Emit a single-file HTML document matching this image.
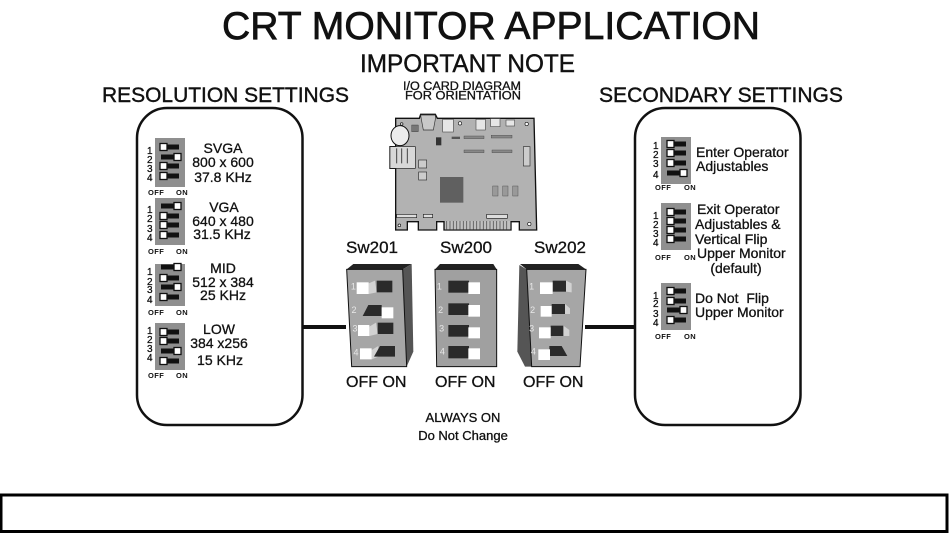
<!DOCTYPE html>
<html><head><meta charset="utf-8"><style>
html,body{margin:0;padding:0;background:#fff}
svg{display:block}
text{font-family:"Liberation Sans",sans-serif;fill:#111;stroke:#111;stroke-width:.3px}
.m{font-size:14px;text-anchor:middle}
.l{font-size:14px}
.n{font-size:10px}
.o{font-size:7.5px;font-weight:bold;letter-spacing:.4px;stroke:none}
.b{font-size:17px}
.f{font-size:16px}
.g{fill:#8f8f8f}
.w{fill:#fff}
.d{fill:#2a2a2a}
.r{fill:#d2d2d2}
text.k{fill:#e8e8e8;stroke:none;font-size:10px;text-anchor:middle}
</style></head><body>
<svg width="949" height="534" viewBox="0 0 949 534" xmlns="http://www.w3.org/2000/svg">
<defs>
<g id="off"><rect x="0" y="-2.5" width="18" height="5" fill="#111"/><rect x="-1" y="-3.5" width="7" height="7" fill="#fff" stroke="#111" stroke-width="1.3"/></g>
<g id="on"><rect x="0" y="-2.5" width="18" height="5" fill="#111"/><rect x="13" y="-3.5" width="7" height="7" fill="#fff" stroke="#111" stroke-width="1.3"/></g>
</defs>
<rect width="949" height="534" fill="#fff"/>

<text x="222" y="39" font-size="38.6" textLength="538" lengthAdjust="spacingAndGlyphs" style="stroke-width:.7px">CRT MONITOR APPLICATION</text>
<text x="360" y="72" font-size="24.6" textLength="215" lengthAdjust="spacingAndGlyphs" style="stroke-width:.4px">IMPORTANT NOTE</text>
<text x="403" y="90" font-size="12.3" textLength="118" lengthAdjust="spacingAndGlyphs">I/O CARD DIAGRAM</text>
<text x="405" y="99.500" font-size="12.3" textLength="116" lengthAdjust="spacingAndGlyphs">FOR ORIENTATION</text>
<text x="102" y="102" font-size="21" textLength="247" lengthAdjust="spacingAndGlyphs" style="stroke-width:.4px">RESOLUTION SETTINGS</text>
<text x="599" y="102" font-size="21" textLength="244" lengthAdjust="spacingAndGlyphs" style="stroke-width:.4px">SECONDARY SETTINGS</text>

<!-- panels -->
<rect x="137" y="108" width="165.500" height="317" rx="30" ry="30" fill="#fff" stroke="#111" stroke-width="2.500"/>
<rect x="635" y="108" width="165.500" height="317" rx="30" ry="30" fill="#fff" stroke="#111" stroke-width="2.500"/>
<rect x="303" y="325" width="43" height="4" fill="#111"/>
<rect x="585" y="325" width="50" height="4" fill="#111"/>

<!-- left dips -->
<rect class="g" x="155" y="138" width="30" height="49"/>
<use href="#off" x="161" y="147"/><use href="#on" x="161" y="157"/><use href="#off" x="161" y="166"/><use href="#off" x="161" y="176"/>
<text class="n" x="147" y="154">1</text><text class="n" x="147" y="163">2</text><text class="n" x="147" y="172">3</text><text class="n" x="147" y="181">4</text>
<text class="o" x="148" y="195">OFF</text><text class="o" x="176" y="195">ON</text>
<text class="m" x="223" y="153">SVGA</text><text class="m" x="223" y="167">800 x 600</text><text class="m" x="223" y="182">37.8 KHz</text>

<rect class="g" x="155" y="198" width="30" height="47"/>
<use href="#on" x="161" y="206"/><use href="#off" x="161" y="216"/><use href="#off" x="161" y="225"/><use href="#off" x="161" y="235"/>
<text class="n" x="147" y="213">1</text><text class="n" x="147" y="222">2</text><text class="n" x="147" y="232">3</text><text class="n" x="147" y="241">4</text>
<text class="o" x="148" y="254">OFF</text><text class="o" x="176" y="254">ON</text>
<text class="m" x="224" y="212">VGA</text><text class="m" x="223" y="226">640 x 480</text><text class="m" x="222" y="239">31.5 KHz</text>

<rect class="g" x="155" y="264" width="30" height="42"/>
<use href="#on" x="161" y="267"/><use href="#off" x="161" y="278"/><use href="#on" x="161" y="287"/><use href="#off" x="161" y="297"/>
<text class="n" x="147" y="275">1</text><text class="n" x="147" y="285">2</text><text class="n" x="147" y="293">3</text><text class="n" x="147" y="303">4</text>
<text class="o" x="148" y="315">OFF</text><text class="o" x="176" y="315">ON</text>
<text class="m" x="223" y="273">MID</text><text class="m" x="223" y="287">512 x 384</text><text class="m" x="223" y="300">25 KHz</text>

<rect class="g" x="155" y="323" width="30" height="47"/>
<use href="#off" x="161" y="332"/><use href="#off" x="161" y="341"/><use href="#on" x="161" y="351"/><use href="#off" x="161" y="361"/>
<text class="n" x="147" y="334">1</text><text class="n" x="147" y="343">2</text><text class="n" x="147" y="352">3</text><text class="n" x="147" y="361">4</text>
<text class="o" x="148" y="378">OFF</text><text class="o" x="176" y="378">ON</text>
<text class="m" x="219" y="334">LOW</text><text class="m" x="219" y="348">384 x256</text><text class="m" x="220" y="365">15 KHz</text>

<!-- right dips -->
<rect class="g" x="661" y="137" width="30" height="47"/>
<use href="#off" x="668" y="144"/><use href="#off" x="668" y="153"/><use href="#off" x="668" y="163"/><use href="#on" x="667" y="173"/>
<text class="n" x="653" y="149">1</text><text class="n" x="653" y="158">2</text><text class="n" x="653" y="167">3</text><text class="n" x="653" y="178">4</text>
<text class="o" x="655" y="190">OFF</text><text class="o" x="684" y="190">ON</text>
<text class="l" x="696" y="157">Enter Operator</text><text class="l" x="696" y="171">Adjustables</text>

<rect class="g" x="661" y="203" width="30" height="47"/>
<use href="#off" x="668" y="212"/><use href="#off" x="668" y="221"/><use href="#off" x="668" y="230"/><use href="#off" x="668" y="239"/>
<text class="n" x="653" y="219">1</text><text class="n" x="653" y="228">2</text><text class="n" x="653" y="237">3</text><text class="n" x="653" y="246">4</text>
<text class="o" x="655" y="260">OFF</text><text class="o" x="684" y="260">ON</text>
<text class="l" x="697" y="214">Exit Operator</text><text class="l" x="695" y="229">Adjustables &amp;</text><text class="l" x="695" y="244">Vertical Flip</text><text class="l" x="697" y="258">Upper Monitor</text><text class="m" x="736" y="273">(default)</text>

<rect class="g" x="661" y="283" width="30" height="47"/>
<use href="#off" x="668" y="291"/><use href="#off" x="668" y="301"/><use href="#on" x="667" y="310"/><use href="#off" x="668" y="320"/>
<text class="n" x="653" y="299">1</text><text class="n" x="653" y="307">2</text><text class="n" x="653" y="317">3</text><text class="n" x="653" y="326">4</text>
<text class="o" x="655" y="339">OFF</text><text class="o" x="684" y="339">ON</text>
<text class="l" x="695" y="303" xml:space="preserve">Do Not  Flip</text><text class="l" x="695" y="317">Upper Monitor</text>

<!-- board -->
<g transform="translate(380,80) scale(0.33333)">
<polygon points="47,115 118,115 122,103 166,103 172,115 462,115 470,450 418,450 418,425 393,425 393,450 192,450 192,425 170,425 170,450 115,450 115,425 82,425 82,450 47,450 47,265 30,265 30,200 47,200" fill="#b2b2b2" stroke="#111" stroke-width="4"/>
<polygon points="122,105 166,105 166,118 160,150 130,150 124,118" fill="#c8c8c8" stroke="#333" stroke-width="2"/>
<rect x="188" y="118" width="32" height="38" fill="#e6e6e6" stroke="#555" stroke-width="2"/>
<rect x="288" y="118" width="28" height="32" fill="#e6e6e6" stroke="#555" stroke-width="2"/>
<rect x="332" y="116" width="28" height="24" fill="#e6e6e6" stroke="#555" stroke-width="2"/>
<rect x="378" y="120" width="26" height="18" fill="#e6e6e6" stroke="#555" stroke-width="2"/>
<rect x="30" y="200" width="76" height="65" fill="#d8d8d8" stroke="#222" stroke-width="2"/>
<path d="M50,205v45M65,205v45M82,205v45" stroke="#444" stroke-width="3"/>
<ellipse cx="60" cy="167" rx="27" ry="30" fill="#ececec" stroke="#111" stroke-width="3"/>
<rect x="95" y="135" width="20" height="20" fill="#777" stroke="#222"/>
<rect x="168" y="172" width="16" height="24" fill="#333"/>
<rect x="215" y="170" width="25" height="7" fill="#555"/>
<rect x="252" y="168" width="60" height="8" fill="#888" stroke="#333"/>
<rect x="334" y="166" width="62" height="8" fill="#888" stroke="#333"/>
<rect x="252" y="210" width="60" height="8" fill="#888" stroke="#333"/>
<rect x="336" y="210" width="60" height="8" fill="#888" stroke="#333"/>
<rect x="430" y="200" width="20" height="58" fill="#ccc" stroke="#333" stroke-width="2"/>
<rect x="116" y="240" width="24" height="24" fill="#ccc" stroke="#333" stroke-width="2"/>
<rect x="116" y="276" width="24" height="24" fill="#ccc" stroke="#333" stroke-width="2"/>
<rect x="180" y="291" width="70" height="77" fill="#606060"/>
<rect x="338" y="318" width="16" height="30" fill="#999" stroke="#333"/><rect x="368" y="318" width="16" height="30" fill="#999" stroke="#333"/><rect x="398" y="318" width="16" height="30" fill="#999" stroke="#333"/>
<rect x="50" y="403" width="60" height="10" fill="#ddd" stroke="#222" stroke-width="2"/>
<rect x="130" y="403" width="28" height="10" fill="#ddd" stroke="#222" stroke-width="2"/>
<rect x="320" y="403" width="62" height="12" fill="#ddd" stroke="#222" stroke-width="2"/>
<rect x="195" y="423" width="196" height="25" fill="#c0c0c0"/>
<path d="M200,423v25M210,423v25M220,423v25M230,423v25M240,423v25M250,423v25M260,423v25M270,423v25M280,423v25M290,423v25M300,423v25M310,423v25M320,423v25M330,423v25M340,423v25M350,423v25M360,423v25M370,423v25M380,423v25" stroke="#555" stroke-width="2.500"/>
<circle cx="240" cy="130" r="5" fill="#fff" stroke="#111" stroke-width="2"/><circle cx="440" cy="132" r="5" fill="#fff" stroke="#111" stroke-width="2"/><circle cx="448" cy="432" r="5" fill="#fff" stroke="#111" stroke-width="2"/><circle cx="58" cy="436" r="4" fill="#fff" stroke="#111" stroke-width="2"/>
<circle cx="65" cy="132" r="4" fill="#ddd" stroke="#111" stroke-width="2"/>
</g>

<!-- big switches -->
<g transform="translate(330,230) scale(0.33333)">
<polygon points="50,118 70,102 245,102 218,118" fill="#222"/>
<polygon points="218,118 245,102 250,365 230,410" fill="#555"/>
<polygon points="50,118 218,118 230,410 65,410" fill="#a6a6a6" stroke="#111" stroke-width="3"/>
<polygon class="r" points="116,160 135,152 140,187 116,192"/>
<rect class="d" x="140" y="152" width="47" height="35"/><rect class="w" x="80" y="157" width="36" height="35"/>
<polygon class="d" points="115,225 155,225 155,258 98,258"/><rect class="w" x="155" y="232" width="35" height="33"/>
<polygon class="r" points="118,290 138,278 143,312 118,318"/>
<rect class="d" x="143" y="278" width="47" height="34"/><rect class="w" x="84" y="285" width="34" height="33"/>
<polygon class="r" points="125,360 145,348 145,380 125,388"/>
<polygon class="d" points="150,348 195,348 195,380 132,380"/><rect class="w" x="90" y="355" width="35" height="33"/>

<polygon points="315,118 330,102 490,102 500,118" fill="#222"/>
<polygon points="315,118 500,118 500,410 320,410" fill="#a0a0a0" stroke="#111" stroke-width="3"/>
<rect class="d" x="355" y="152" width="62" height="36"/><rect class="w" x="415" y="157" width="35" height="35"/>
<rect class="d" x="355" y="220" width="62" height="35"/><rect class="w" x="415" y="225" width="35" height="35"/>
<rect class="d" x="355" y="285" width="62" height="35"/><rect class="w" x="415" y="292" width="35" height="33"/>
<rect class="d" x="355" y="348" width="62" height="37"/><rect class="w" x="415" y="355" width="35" height="33"/>

<polygon points="570,102 745,102 768,118 590,118" fill="#222"/>
<polygon points="568,105 590,118 605,410 585,410 562,365" fill="#555"/>
<polygon points="590,118 768,118 750,410 605,410" fill="#a6a6a6" stroke="#111" stroke-width="3"/>
<polygon class="r" points="708,152 725,160 725,187 708,185"/><rect class="d" x="668" y="152" width="40" height="33"/><rect class="w" x="630" y="157" width="38" height="35"/>
<polygon class="r" points="705,222 720,235 720,252 705,252"/><rect class="d" x="665" y="222" width="40" height="30"/><rect class="w" x="632" y="228" width="33" height="32"/>
<polygon class="r" points="700,287 718,300 718,318 700,318"/><rect class="d" x="662" y="287" width="38" height="31"/><rect class="w" x="627" y="292" width="35" height="33"/>
<polygon class="d" points="658,348 695,348 712,378 658,378"/><rect class="w" x="625" y="358" width="35" height="32"/>

<text class="k" x="70" y="178" style="font-size:27px">1</text><text class="k" x="72" y="249" style="font-size:27px">2</text><text class="k" x="75" y="305" style="font-size:27px">3</text><text class="k" x="78" y="376" style="font-size:27px">4</text>
<text class="k" x="328" y="178" style="font-size:27px">1</text><text class="k" x="332" y="249" style="font-size:27px">2</text><text class="k" x="335" y="305" style="font-size:27px">3</text><text class="k" x="337" y="374" style="font-size:27px">4</text>
<text class="k" x="605" y="178" style="font-size:27px">1</text><text class="k" x="608" y="249" style="font-size:27px">2</text><text class="k" x="605" y="305" style="font-size:27px">3</text><text class="k" x="610" y="374" style="font-size:27px">4</text>
</g>
<text class="b" x="346" y="253">Sw201</text>
<text class="b" x="440" y="253">Sw200</text>
<text class="b" x="534" y="253">Sw202</text>
<text class="f" x="346" y="387">OFF ON</text>
<text class="f" x="435" y="387">OFF ON</text>
<text class="f" x="523" y="387">OFF ON</text>
<text x="463" y="422" font-size="13" text-anchor="middle">ALWAYS ON</text>
<text x="463" y="440" font-size="13" text-anchor="middle">Do Not Change</text>

<rect x="1" y="495" width="946" height="36.500" fill="#fff" stroke="#000" stroke-width="3"/>
</svg>
</body></html>
